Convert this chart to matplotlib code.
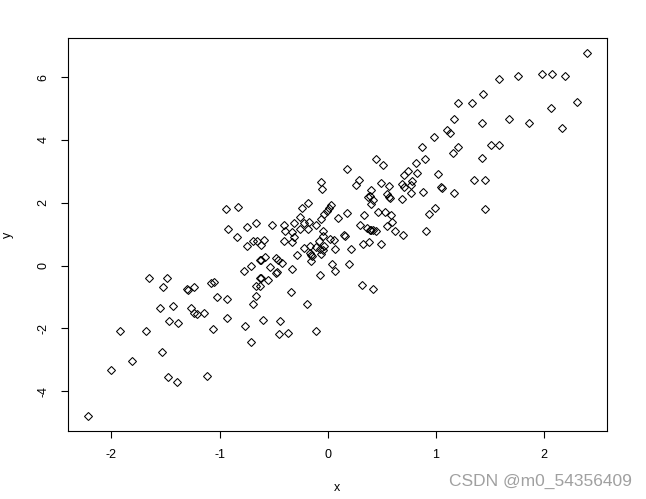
import matplotlib
matplotlib.use("Agg")
import matplotlib.pyplot as plt

plt.rcParams['font.family'] = ['Liberation Sans', 'DejaVu Sans']
plt.rcParams['axes.unicode_minus'] = False

# points (x, y)
x = [0.87, 0.45, 0.51, 0.90, 0.82, 0.18,
     2.40, 1.59, 1.76, 1.98, 2.08, 2.20, 1.44, 1.21, 1.34, 2.31, 2.07, 1.17,
     1.43, 1.68, 1.86, 2.17, 1.10, 1.13, 0.98, 1.21, 1.51, 1.59, 1.16, 1.43,
     1.02, 1.35, 1.46, 1.05, 1.06, 1.17, 0.99, 0.94, 1.46,
     0.71, 0.74, 0.83, -0.06, 0.29, 0.26, 0.49, 0.57, 0.69, 0.71, 0.78, 0.77,
     -0.05, 0.40, 0.88, 0.55, 0.77, 0.37, 0.39, 0.42, 0.57, 0.58, 0.69,
     -0.18, -0.24, 0.03, 0.01, -0.01, -0.03, 0.40, 0.18, 0.34, 0.47, 0.53,
     0.59, -0.26, 0.10, -0.06, -0.66, -0.51, -0.40, -0.31, -0.22, -0.17,
     -0.11, 0.60, 0.30, 0.36, 0.39, 0.40, 0.42, 0.45, 0.55, 0.62, 0.70, 0.91,
     -0.39, -0.33, -0.26, -0.18, -0.04, -0.31, -0.04, 0.15, 0.16, 0.02, 0.06,
     -0.08, -0.69, -0.65, -0.62, -0.59, -0.40, -0.33, 0.38, 0.33, 0.49,
     -0.03, -0.22, -0.16, -0.11, -0.07, -0.04, 0.07, 0.22, -0.15, -0.14,
     -0.16, -0.06, -0.28, -0.15, -0.58, -0.63, -0.62, -0.48, -0.46, -0.42,
     -0.71, -0.53, 0.04, 0.20, -0.33, 0.07, -0.47, -0.48, -0.63, -0.62,
     -0.55, -0.07, -0.66, -0.63, 0.32, 0.42, -0.66, -0.34,
     -0.94, -0.83, -0.92, -0.75, -0.84, -0.75, -0.77, -1.65, -1.49, -1.52,
     -1.29, -1.30, -1.24, -1.08, -1.05, -1.02, -0.93,
     -1.55, -1.43, -1.26, -1.24, -1.21, -1.14, -0.93, -0.76, -1.47, -1.38,
     -1.92, -1.68, -1.06, -1.53, -1.81, -2.00, -1.48, -1.39, -1.12, -2.22,
     -0.69, -0.19, -0.60, -0.44, -0.45, -0.37, -0.11, -0.71]
y = [3.79, 3.38, 3.19, 3.38, 3.28, 3.07,
     6.77, 5.95, 6.04, 6.10, 6.10, 6.04, 5.47, 5.19, 5.19, 5.22, 5.00, 4.68,
     4.55, 4.68, 4.55, 4.39, 4.30, 4.23, 4.08, 3.79, 3.85, 3.85, 3.57, 3.41,
     2.90, 2.74, 2.74, 2.49, 2.47, 2.30, 1.83, 1.64, 1.79,
     2.87, 3.00, 2.96, 2.67, 2.71, 2.55, 2.64, 2.52, 2.61, 2.51, 2.70, 2.55,
     2.43, 2.42, 2.33, 2.27, 2.30, 2.19, 2.22, 2.10, 2.17, 2.15, 2.11,
     1.98, 1.83, 1.93, 1.84, 1.74, 1.64, 1.95, 1.67, 1.60, 1.70, 1.70,
     1.60, 1.54, 1.50, 1.47, 1.35, 1.29, 1.29, 1.35, 1.35, 1.38,
     1.29, 1.38, 1.28, 1.19, 1.14, 1.12, 1.12, 1.10, 1.26, 1.10, 0.96, 1.10,
     1.11, 1.06, 1.15, 1.16, 1.10, 0.90, 0.93, 0.97, 0.93, 0.84, 0.81,
     0.78, 0.79, 0.78, 0.65, 0.80, 0.78, 0.74, 0.75, 0.68, 0.68,
     0.63, 0.56, 0.61, 0.60, 0.52, 0.51, 0.53, 0.52, 0.34, 0.32,
     0.39, 0.37, 0.33, 0.14, 0.26, 0.19, 0.17, 0.24, 0.17, 0.08,
     -0.01, -0.04, 0.05, 0.05, -0.11, -0.17, -0.21, -0.23, -0.38, -0.40,
     -0.46, -0.31, -0.65, -0.65, -0.61, -0.73, -0.96, -0.85,
     1.79, 1.86, 1.15, 1.22, 0.91, 0.61, -0.17, -0.39, -0.39, -0.68,
     -0.77, -0.76, -0.68, -0.55, -0.53, -1.00, -1.07,
     -1.34, -1.28, -1.34, -1.50, -1.54, -1.50, -1.66, -1.91, -1.76, -1.82,
     -2.07, -2.07, -2.01, -2.74, -3.02, -3.31, -3.53, -3.69, -3.50, -4.80,
     -1.23, -1.23, -1.72, -1.76, -2.17, -2.14, -2.07, -2.42]

xticks = [-2, -1, 0, 1, 2]
yticks = [-4, -2, 0, 2, 4, 6]

fig = plt.figure(figsize=(6.46, 4.99), dpi=100)
ax = fig.add_axes([0.1048, 0.1363, 0.8348, 0.7869])

ax.plot(x, y, linestyle='none', marker='D', markersize=4, mfc='none',
        mec='black', mew=0.75)
ax.margins(0.04)

ax.set_xticks(xticks)
ax.set_xticklabels([str(t) for t in xticks])
ax.set_yticks(yticks)
ax.set_yticklabels([str(t) for t in yticks], rotation=90, va='center')
ax.tick_params(direction='out', length=5, width=0.8, labelsize=9, pad=8)
for sp in ax.spines.values():
    sp.set_linewidth(0.8)

ax.set_xlabel('x', fontsize=9)
ax.set_ylabel('y', fontsize=9)
ax.xaxis.set_label_coords(0.5, -0.13)
ax.yaxis.set_label_coords(-0.1, 0.5)

fig.text(0.978, 0.036, 'CSDN @m0_54356409', ha='right', va='center',
         fontsize=12.5, color='#a0a0a0')

plt.savefig('out.png', dpi=100)
